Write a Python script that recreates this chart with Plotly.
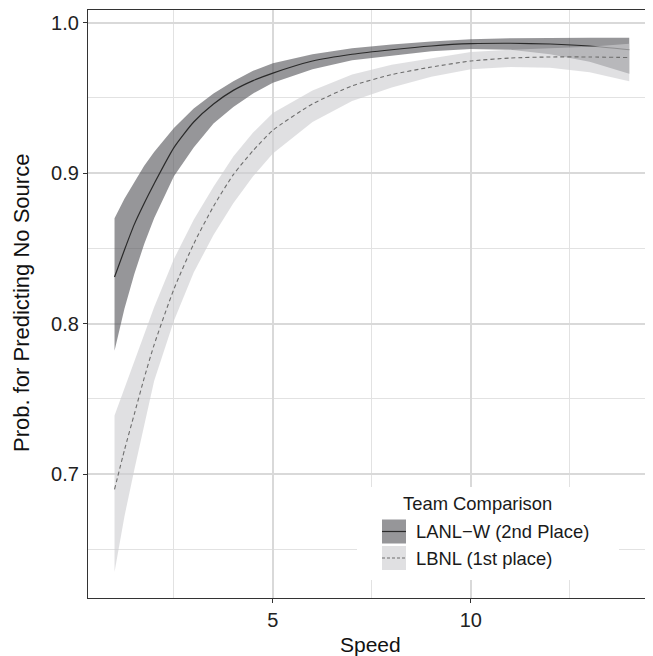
import plotly.graph_objects as go

# ---- data ----
speed = [1, 1.25, 1.5, 1.75, 2, 2.5, 3, 3.5, 4, 4.5, 5, 6, 7, 8, 9, 10, 11, 12, 13, 14]

lanl_mean = [0.831, 0.849, 0.866, 0.880, 0.893, 0.917, 0.934, 0.946, 0.955, 0.9615, 0.9665,
             0.9745, 0.979, 0.982, 0.9845, 0.986, 0.9863, 0.9858, 0.9845, 0.982]
lanl_upper = [0.870, 0.883, 0.894, 0.905, 0.914, 0.930, 0.943, 0.953, 0.961, 0.968, 0.973,
              0.979, 0.983, 0.9855, 0.9875, 0.989, 0.9897, 0.990, 0.990, 0.990]
lanl_lower = [0.782, 0.810, 0.833, 0.853, 0.870, 0.898, 0.917, 0.933, 0.944, 0.953, 0.960,
              0.969, 0.975, 0.978, 0.981, 0.9825, 0.982, 0.979, 0.974, 0.966]

lbnl_mean = [0.690, 0.716, 0.740, 0.764, 0.786, 0.823, 0.853, 0.878, 0.899, 0.915, 0.9285,
             0.946, 0.958, 0.9655, 0.9705, 0.9745, 0.9765, 0.9772, 0.9772, 0.9768]
lbnl_upper = [0.739, 0.757, 0.776, 0.793, 0.811, 0.843, 0.869, 0.891, 0.911, 0.927, 0.940,
              0.955, 0.9655, 0.972, 0.9765, 0.9805, 0.982, 0.983, 0.984, 0.986]
lbnl_lower = [0.635, 0.672, 0.703, 0.733, 0.762, 0.802, 0.834, 0.859, 0.880, 0.898, 0.913,
              0.934, 0.948, 0.957, 0.964, 0.969, 0.9705, 0.970, 0.967, 0.961]

team_names = ["LANL\u2212W (2nd Place)", "LBNL (1st place)"]
legend_title = "Team Comparison"
x_title = "Speed"
y_title = "Prob. for Predicting No Source"

# ---- styles ----
FONT = "Liberation Sans, Arial, Helvetica, sans-serif"
dark_fill = "rgba(85,85,90,0.62)"
light_fill = "rgba(205,205,208,0.62)"
dark_line = "#2a2a2a"
dash_line = "#6e6e6e"

fig = go.Figure()


def band(x, lo, hi, color):
    return go.Scatter(x=list(x) + list(x)[::-1], y=list(hi) + list(lo)[::-1],
                      fill="toself", fillcolor=color, line=dict(width=0),
                      mode="lines", hoverinfo="skip", showlegend=False)


# geom_smooth order: LANL ribbon, LANL line, LBNL ribbon, LBNL line
fig.add_trace(band(speed, lanl_lower, lanl_upper, dark_fill))
fig.add_trace(go.Scatter(x=speed, y=lanl_mean, mode="lines",
                         line=dict(color=dark_line, width=1.2, shape="spline", smoothing=0.6),
                         showlegend=False))
fig.add_trace(band(speed, lbnl_lower, lbnl_upper, light_fill))
fig.add_trace(go.Scatter(x=speed, y=lbnl_mean, mode="lines",
                         line=dict(color=dash_line, width=1.1, dash="4px,3px",
                                   shape="spline", smoothing=0.6),
                         showlegend=False))

# ---- layout geometry (page has an 8px body margin, so the figure is offset) ----
OFF = 8
W, H = 653 - OFF, 656 - OFF
L, R, T, B = 88 - OFF, 653 - OFF, 10 - OFF, 598 - OFF


def px_x(p):  # p = pixel in the page
    return (p - OFF - L) / float(R - L)


def px_y(p):
    return (B - (p - OFF)) / float(B - T)


shapes = [
    dict(type="rect", xref="paper", yref="paper", x0=px_x(357), x1=px_x(619),
         y0=px_y(580), y1=px_y(487), fillcolor="white", line=dict(width=0), layer="above"),
    dict(type="rect", xref="paper", yref="paper", x0=px_x(382), x1=px_x(406),
         y0=px_y(543.5), y1=px_y(519.5), fillcolor=dark_fill, line=dict(width=0), layer="above"),
    dict(type="line", xref="paper", yref="paper", x0=px_x(382), x1=px_x(406),
         y0=px_y(531.5), y1=px_y(531.5), line=dict(color=dark_line, width=1.2), layer="above"),
    dict(type="rect", xref="paper", yref="paper", x0=px_x(382), x1=px_x(406),
         y0=px_y(570), y1=px_y(546), fillcolor=light_fill, line=dict(width=0), layer="above"),
    dict(type="line", xref="paper", yref="paper", x0=px_x(382), x1=px_x(406),
         y0=px_y(558), y1=px_y(558), line=dict(color=dash_line, width=1.1, dash="3px,2px"),
         layer="above"),
]

annotations = [
    dict(text=legend_title, xref="paper", yref="paper", x=px_x(401), y=px_y(503),
         xanchor="left", yanchor="middle", showarrow=False,
         font=dict(family=FONT, size=18.4, color="#1a1a1a")),
    dict(text=team_names[0], xref="paper", yref="paper", x=px_x(414), y=px_y(531.5),
         xanchor="left", yanchor="middle", showarrow=False,
         font=dict(family=FONT, size=18.4, color="#1a1a1a")),
    dict(text=team_names[1], xref="paper", yref="paper", x=px_x(414), y=px_y(558),
         xanchor="left", yanchor="middle", showarrow=False,
         font=dict(family=FONT, size=18.4, color="#1a1a1a")),
    # axis titles
    dict(text=x_title, xref="paper", yref="paper", x=0.5, y=px_y(644),
         xanchor="center", yanchor="middle", showarrow=False,
         font=dict(family=FONT, size=21, color="#111111")),
    dict(text=y_title, xref="paper", yref="paper", x=px_x(21), y=px_y(303),
         xanchor="center", yanchor="middle", showarrow=False, textangle=-90,
         font=dict(family=FONT, size=22, color="#111111")),
]

fig.update_layout(
    width=W, height=H,
    margin=dict(l=L, r=W - R, t=T, b=H - B, autoexpand=False),
    paper_bgcolor="white", plot_bgcolor="white",
    showlegend=False,
    shapes=shapes, annotations=annotations,
    font=dict(family=FONT, size=20, color="#1a1a1a"),
)

fig.update_xaxes(
    range=[0.33, 14.6], tick0=0, dtick=5, automargin=False,
    showgrid=True, gridcolor="#d9d9d9", gridwidth=1.5,
    minor=dict(tick0=0, dtick=2.5, showgrid=True, gridcolor="#e2e2e2", gridwidth=1),
    showline=True, linecolor="#333333", linewidth=1.3, mirror=True,
    ticks="outside", ticklen=4, tickcolor="#333333", tickwidth=1.2,
    tickfont=dict(family=FONT, size=20, color="#222222"),
    zeroline=False,
)
fig.update_yaxes(
    range=[0.6178, 1.0084], tick0=0, dtick=0.1, tickformat=".1f", automargin=False,
    showgrid=True, gridcolor="#d9d9d9", gridwidth=1.5,
    minor=dict(tick0=0, dtick=0.05, showgrid=True, gridcolor="#e2e2e2", gridwidth=1),
    showline=True, linecolor="#333333", linewidth=1.3,
    ticks="outside", ticklen=4, tickcolor="#333333", tickwidth=1.2,
    tickfont=dict(family=FONT, size=20, color="#222222"),
    zeroline=False,
)

fig.write_html("out.html")
